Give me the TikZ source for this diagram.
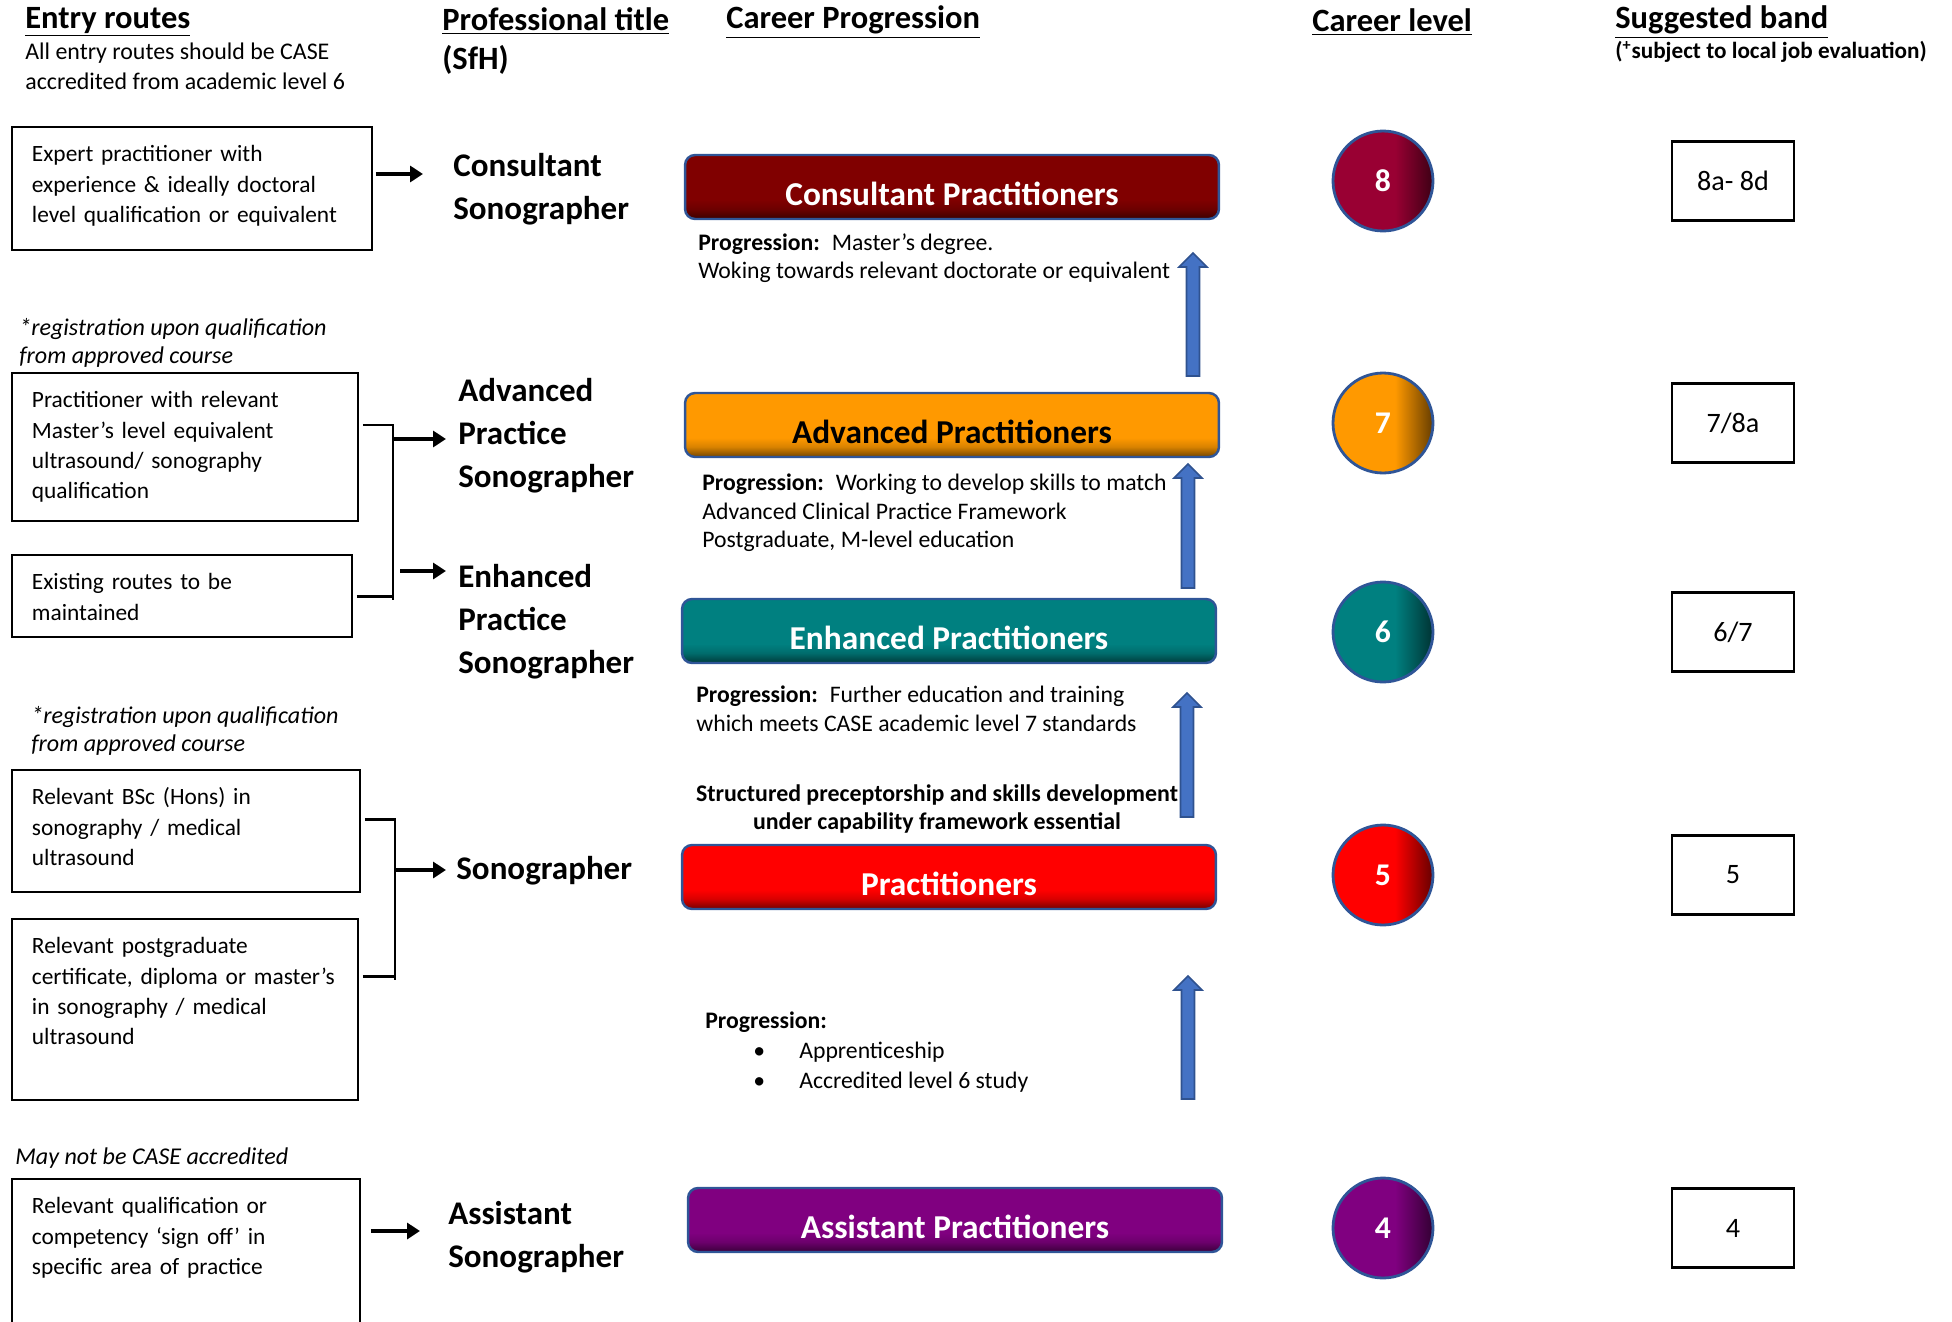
\documentclass[tikz,border=0pt]{standalone}
\usepackage{fontspec}
\setmainfont{Carlito}
\usetikzlibrary{arrows.meta, positioning, calc}

\definecolor{consultred}{HTML}{800000}
\definecolor{advorange}{HTML}{FF9900}
\definecolor{enhteal}{HTML}{008080}
\definecolor{pracred}{HTML}{FF0000}
\definecolor{assistpurple}{HTML}{800080}
\definecolor{levelwine}{HTML}{990033}
\definecolor{rimblue}{HTML}{2F5597}
\definecolor{arrowblue}{HTML}{4472C4}
\definecolor{arrowrim}{HTML}{2F528F}
\colorlet{barcol}{consultred}
\colorlet{circcol}{consultred}

\pgfdeclareverticalshading[barcol]{barshade}{100bp}{color(0bp)=(barcol!45!black); color(25bp)=(barcol!45!black); color(33bp)=(barcol!85!black); color(40bp)=(barcol); color(100bp)=(barcol)}
\pgfdeclarehorizontalshading[circcol]{circshade}{100bp}{color(0bp)=(circcol); color(56bp)=(circcol); color(75bp)=(circcol!40!black); color(100bp)=(circcol!40!black)}

\newcommand{\progarrow}[2]{%
  \filldraw[uparrow] ($(#1)+(-6.5,0)$) -- ($(#2)+(-6.5,14)$) -- ($(#2)+(-14,14)$) -- (#2)
    -- ($(#2)+(14,14)$) -- ($(#2)+(6.5,14)$) -- ($(#1)+(6.5,0)$) -- cycle;}

\begin{document}
\begin{tikzpicture}[x=0.02cm, y=-0.02cm]
    \tikzstyle{head}=[anchor=west, inner sep=0pt, font=\bfseries\fontsize{18.5}{22.5}\selectfont]
    \tikzstyle{sub}=[anchor=west, align=left, inner sep=0pt, font=\fontsize{13.6}{17}\selectfont]
    \tikzstyle{note}=[sub, font=\itshape\fontsize{13.7}{16}\selectfont]
    \tikzstyle{route}=[draw, line width=1.1pt, anchor=north west, align=left, inner xsep=0.4cm, inner ysep=0pt, text height=0.7cm, font=\fontsize{13.3}{17.2}\selectfont]
    \tikzstyle{ptitle}=[anchor=west, align=left, inner sep=0pt, font=\bfseries\fontsize{18.8}{24.4}\selectfont]
    \tikzstyle{prog}=[anchor=west, align=left, inner sep=0pt, font=\fontsize{13.5}{16.3}\selectfont]
    \tikzstyle{band}=[draw, line width=1.4pt, minimum width=2.44cm, minimum height=1.58cm, font=\fontsize{16}{19}\selectfont]
    \tikzstyle{blk}=[line width=2.2pt, -{Triangle[length=0.26cm, width=0.32cm]}]
    \tikzstyle{brk}=[line width=1.7pt]
    \tikzstyle{uparrow}=[fill=arrowblue, draw=arrowrim, line width=0.9pt]
    \tikzset{bar/.style={rectangle, rounded corners=0.2cm, minimum width=10.68cm, minimum height=1.28cm,
        draw=rimblue, line width=1.4pt, shade, shading=barshade, /utils/exec={\colorlet{barcol}{#1}},
        text=white, text height=21pt, text depth=0pt, font=\bfseries\fontsize{19}{23}\selectfont},
      lvl/.style={circle, minimum size=2cm, inner sep=0pt, draw=rimblue, line width=1.6pt,
        shade, shading=circshade, /utils/exec={\colorlet{circcol}{#1}},
        text=white, font=\bfseries\fontsize{18}{22}\selectfont}}

    \useasboundingbox (0,0) rectangle (1952,1322);

    % column heads
    \node[head] (h-entry) at (25,22) {\underline{Entry routes}};
    \node[sub] (h-entry-sub) at (25,66) {All entry routes should be CASE\\accredited from academic level 6};
    \node[head, align=left] (h-title) at (442,41) {\underline{Professional title}\\(SfH)};
    \node[head] (h-prog) at (726,22) {\underline{Career Progression}};
    \node[head] (h-level) at (1312,22) {\underline{Career level}};
    \node[head] (h-band) at (1615,22) {\underline{Suggested band}};
    \node[anchor=west, inner sep=0pt, font=\bfseries\fontsize{13.2}{15}\selectfont] (h-band-sub) at (1615,52) {(\textsuperscript{+}subject to local job evaluation)};

    % entry routes
    \node[route, text width=6.4cm, text depth=1.76cm] (b1) at (11,126) {Expert practitioner with\\experience \& ideally doctoral\\level qualification or equivalent};
    \node[note] (n1) at (19,343) {*registration upon qualification\\from approved course};
    \node[route, text width=6.12cm, text depth=2.26cm] (b2) at (11,372) {Practitioner with relevant\\Master’s level equivalent\\ultrasound/ sonography\\qualification};
    \node[route, text width=6.0cm, text depth=0.94cm] (b3) at (11,554) {Existing routes to be\\maintained};
    \node[note] (n2) at (31,731) {*registration upon qualification\\from approved course};
    \node[route, text width=6.16cm, text depth=1.74cm] (b4) at (11,769) {Relevant BSc (Hons) in\\sonography / medical\\ultrasound};
    \node[route, text width=6.12cm, text depth=2.92cm] (b5) at (11,918) {Relevant postgraduate\\certificate, diploma or master’s\\in sonography / medical\\ultrasound};
    \node[note] (n3) at (15,1158) {May not be CASE accredited};
    \node[route, text width=6.16cm, text depth=2.46cm] (b6) at (11,1178) {Relevant qualification or\\competency ‘sign off’ in\\specific area of practice};

    % professional titles
    \node[ptitle] (t8) at (453,189) {Consultant\\Sonographer};
    \node[ptitle] (t7) at (458,436) {Advanced\\Practice\\Sonographer};
    \node[ptitle] (t6) at (458,622) {Enhanced\\Practice\\Sonographer};
    \node[ptitle] (t5) at (456,871) {Sonographer};
    \node[ptitle] (t4) at (448,1237) {Assistant\\Sonographer};

    % routes to titles
    \coordinate (e8) at (423,174);
    \draw[blk, shorten <=0.06cm] (b1.east |- e8) -- (e8);

    \coordinate (j1) at (393,425);
    \coordinate (j2) at (393,600);
    \coordinate (j3) at (393,596);
    \draw[brk, shorten <=0.08cm] (b2.east |- j1) -- (j1) -- (j2);
    \draw[brk, shorten <=0.08cm] (b3.east |- j3) -- (j3);
    \coordinate (e7) at (446,439);
    \coordinate (e6) at (446,571);
    \draw[blk] (j1 |- e7) -- (e7);
    \draw[blk, shorten <=0.14cm] (j1 |- e6) -- (e6);

    \coordinate (j4) at (395,819);
    \coordinate (j5) at (395,980);
    \coordinate (j6) at (395,976);
    \draw[brk, shorten <=0.08cm] (b4.east |- j4) -- (j4) -- (j5);
    \draw[brk, shorten <=0.08cm] (b5.east |- j6) -- (j6);
    \coordinate (e5) at (446,870);
    \draw[blk] (j4 |- e5) -- (e5);

    \coordinate (e4) at (420,1231);
    \draw[blk, shorten <=0.2cm] (b6.east |- e4) -- (e4);

    % career progression
    \node[bar=consultred] (c8) at (952,187) {Consultant Practitioners};
    \node[bar=advorange, text=black] (c7) at (952,425) {Advanced Practitioners};
    \node[bar=enhteal] (c6) at (949,631) {Enhanced Practitioners};
    \node[bar=pracred] (c5) at (949,877) {Practitioners};
    \node[bar=assistpurple] (c4) at (955,1220) {Assistant Practitioners};

    \node[prog] (p8) at (698,258) {\textbf{Progression:}\enspace Master’s degree.\\Woking towards relevant doctorate or equivalent};
    \node[prog] (p7) at (702,513) {\textbf{Progression:}\enspace Working to develop skills to match\\Advanced Clinical Practice Framework\\Postgraduate, M-level education};
    \node[prog] (p6) at (696,709) {\textbf{Progression:}\enspace Further education and training\\which meets CASE academic level 7 standards};
    \node[prog, anchor=center, align=center, font=\bfseries\fontsize{13.6}{16.3}\selectfont] (ps) at (937,809) {Structured preceptorship and skills development\\under capability framework essential};
    \node[prog, font=\fontsize{13.5}{17}\selectfont] (p5) at (705,1052) {\textbf{Progression:}\\\hspace*{0.96cm}\makebox[0.92cm][l]{\textbullet}Apprenticeship\\\hspace*{0.96cm}\makebox[0.92cm][l]{\textbullet}Accredited level 6 study};

    \foreach \n/\xx/\yb/\yt in {8/1193/376/253, 7/1188/588/464, 6/1187/817/693, 5/1188/1099/976}{
        \coordinate (U-\n) at (\xx,\yb);
        \coordinate (V-\n) at (\xx,\yt);
        \progarrow{U-\n}{V-\n}
    }

    % career level and band
    \foreach \lv/\yy/\col/\band in {8/181/levelwine/{8a- 8d}, 7/423/advorange/{7/8a}, 6/632/enhteal/{6/7}, 5/875/pracred/5, 4/1228/assistpurple/4}{
        \node[lvl=\col] (L-\lv) at (1383,\yy) {\lv};
        \node[band] (B-\lv) at (1733,\yy) {\band};
    }
\end{tikzpicture}
\end{document}
